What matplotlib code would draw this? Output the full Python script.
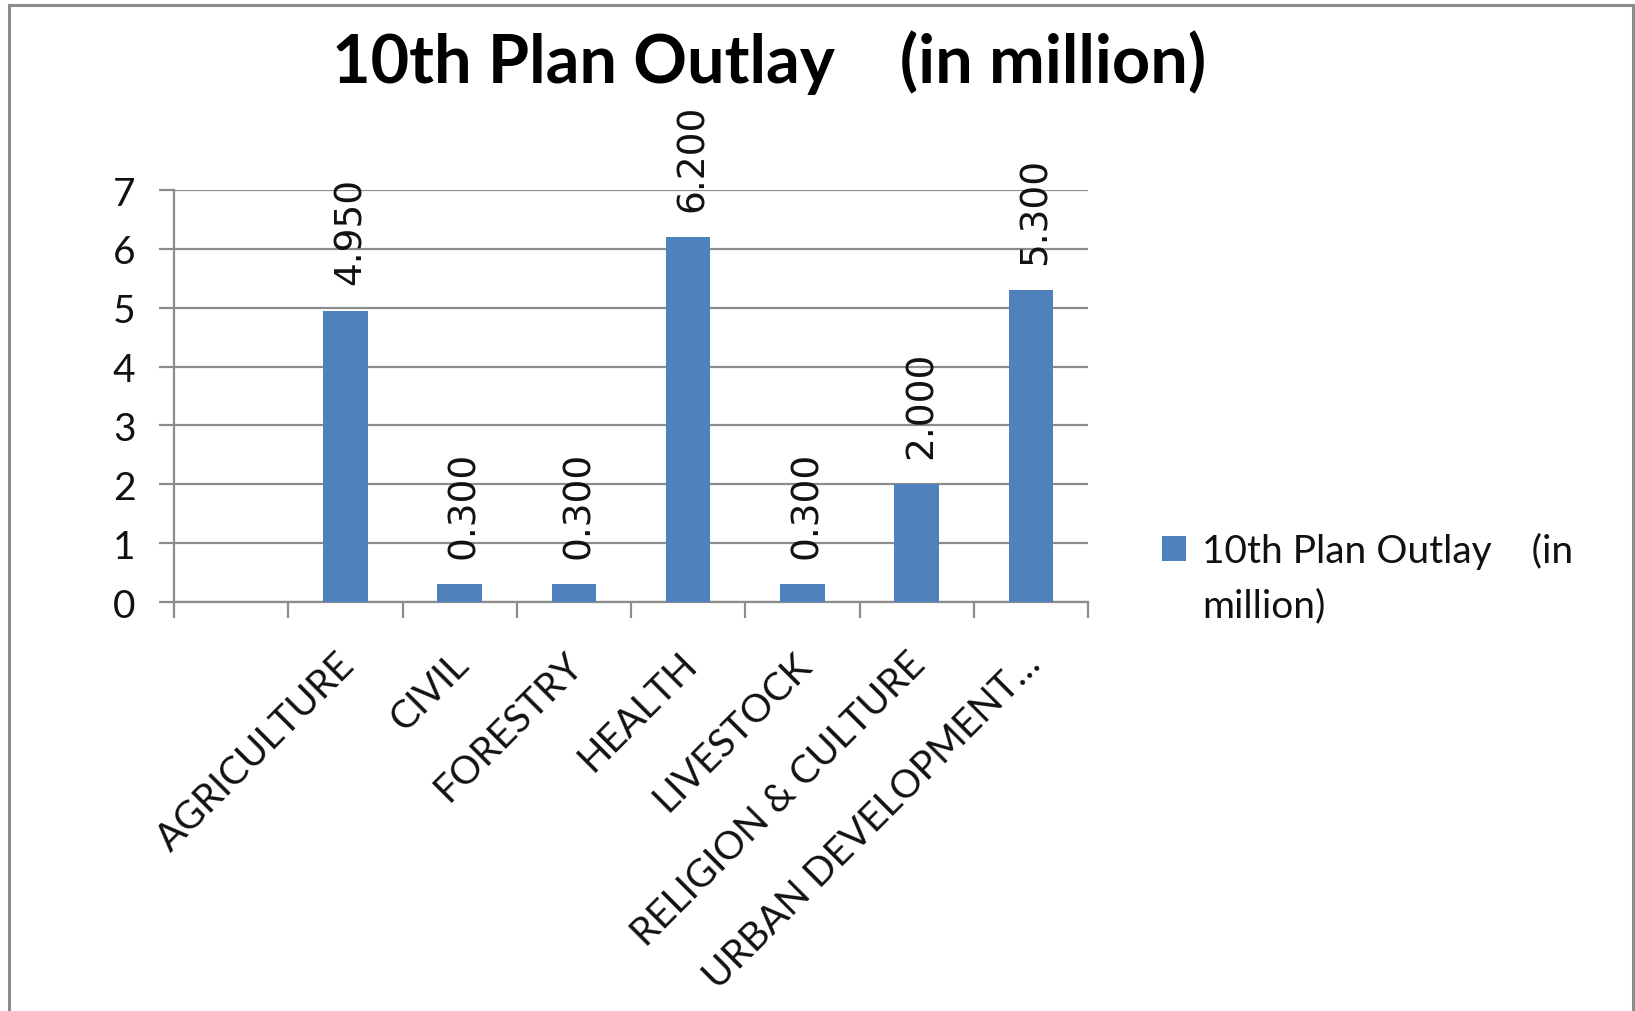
import numpy as np
import matplotlib
matplotlib.use("Agg")
import matplotlib.pyplot as plt
from matplotlib.patches import Rectangle

plt.rcParams['font.family'] = ['Lato', 'DejaVu Sans']

# ---- data ----
categories = ["", "AGRICULTURE", "CIVIL", "FORESTRY", "HEALTH", "LIVESTOCK",
              "RELIGION & CULTURE", "URBAN DEVELOPMENT\u2026"]
values = [np.nan, 4.950, 0.300, 0.300, 6.200, 0.300, 2.000, 5.300]
series_name = "10th Plan Outlay    (in million)"
legend_lines = ["10th Plan Outlay    (in", "million)"]
title_text = "10th Plan Outlay    (in million)"
y_ticks = [0, 1, 2, 3, 4, 5, 6, 7]

W, H = 1635, 1012
fig = plt.figure(figsize=(W / 100, H / 100), dpi=100)
fig.patch.set_facecolor('white')

gray = '#8c8c8c'
bar_color = '#4F81BD'
txt_color = '#111111'

ax = fig.add_axes([174 / W, 409 / H, 914 / W, 412 / H])
x = np.arange(len(categories))
ax.bar(x, values, width=0.39, color=bar_color, zorder=3, label=series_name)

ax.set_xlim(-0.5, len(categories) - 0.5)
ax.set_ylim(0, 7)
ax.set_yticks(y_ticks)
ax.set_yticklabels([str(t) for t in y_ticks])
ax.yaxis.grid(True, color=gray, linewidth=1.6, zorder=0)
ax.set_axisbelow(True)

for s in ['top', 'right']:
    ax.spines[s].set_visible(False)
for s in ['left', 'bottom']:
    ax.spines[s].set_color(gray)
    ax.spines[s].set_linewidth(1.6)

ax.tick_params(axis='y', length=10.8, width=1.6, color=gray, pad=17,
               labelsize=28, labelcolor=txt_color)
ax.set_xticks(np.arange(-0.5, len(categories), 1.0))
ax.set_xticklabels([])
ax.tick_params(axis='x', length=11.5, width=1.6, color=gray)

# category labels
for i, c in enumerate(categories):
    if c:
        ax.annotate(c, xy=(i, 0), xycoords=('data', 'axes fraction'),
                    xytext=(8, -46), textcoords='offset points',
                    rotation=45, rotation_mode='anchor', ha='right',
                    va='baseline', fontsize=28, color=txt_color,
                    annotation_clip=False)

# data labels
for i, v in enumerate(values):
    if not np.isnan(v):
        ax.annotate(f"{v:.3f}", xy=(i, v), xytext=(3.5, 19),
                    textcoords='offset points', rotation=90,
                    ha='center', va='bottom', fontsize=27,
                    family='DejaVu Sans', color=txt_color,
                    annotation_clip=False)

# title
fig.text(769 / W, 1 - 83 / H, title_text, ha='center', va='baseline',
         fontsize=48, fontweight='bold', color='#000000')

# legend (manual, square aligned with first line)
fig.patches.append(Rectangle((1162 / W, 1 - 562 / H), 24 / W, 25 / H,
                             transform=fig.transFigure, facecolor=bar_color,
                             edgecolor='none'))
fig.text(1202 / W, 1 - 563 / H, legend_lines[0], ha='left', va='baseline',
         fontsize=28, color=txt_color)
fig.text(1202 / W, 1 - 617 / H, legend_lines[1], ha='left', va='baseline',
         fontsize=28, color=txt_color)

# outer chart border
fig.patches.append(Rectangle((9 / W, -0.05), (1633 - 9) / W, 1 - 6 / H + 0.05,
                             transform=fig.transFigure, fill=False,
                             edgecolor=gray, linewidth=2.2))

fig.savefig('out.png', dpi=100, facecolor='white')
